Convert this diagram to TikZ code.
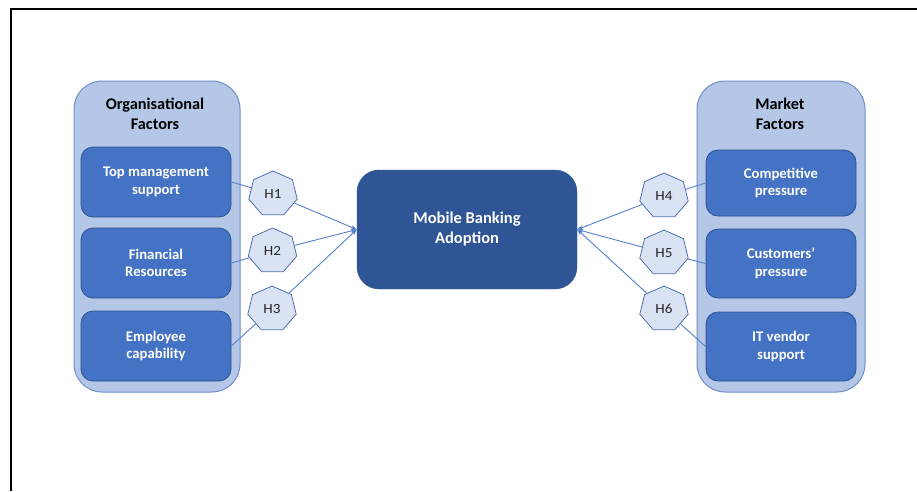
\documentclass[tikz,border=0pt]{standalone}
\usepackage{fontspec}
\setmainfont{Carlito}
\usetikzlibrary{shapes.geometric,arrows.meta}
\definecolor{outerfill}{HTML}{B4C7E7}
\definecolor{outerdraw}{HTML}{6F8FC9}
\definecolor{innerfill}{HTML}{4472C4}
\definecolor{innerdraw}{HTML}{2F528F}
\definecolor{centerfill}{HTML}{2F5597}
\definecolor{heptfill}{HTML}{DAE3F3}
\definecolor{heptdraw}{HTML}{4F6FAF}
\definecolor{linkcol}{HTML}{5580CC}
\tikzset{
  outerbox/.style={draw=outerdraw, fill=outerfill, line width=1pt, rounded corners=28pt, inner sep=0pt},
  innerbox/.style={draw=innerdraw, fill=innerfill, line width=0.8pt, rounded corners=12pt, minimum width=150pt, inner sep=0pt, text=white, font=\bfseries\fontsize{14.7}{17.5}\selectfont, align=center},
  centerbox/.style={draw=centerfill, fill=centerfill, rounded corners=22pt, minimum width=220pt, minimum height=119pt, text=white, font=\bfseries\fontsize{16.5}{20}\selectfont, align=center},
  titletext/.style={font=\bfseries\fontsize{16.3}{20}\selectfont, align=center, text=black},
  hept/.style={regular polygon, regular polygon sides=7, draw=heptdraw, fill=heptfill, line width=0.8pt, minimum size=46pt, inner sep=0pt, font=\fontsize{14}{16}\selectfont, text={black!85}, xscale=1.08, transform shape},
  link/.style={draw=linkcol, line width=0.9pt},
  arrowlink/.style={link, -{Stealth[length=6pt,width=4.5pt]}}
}
\begin{document}
\begin{tikzpicture}[x=1pt,y=-1pt]
\useasboundingbox (0,0) rectangle (917,491);
\draw[line width=1.6pt] (11,491) -- (11,9) -- (917,9);
% outer containers
\node[outerbox, minimum width=166pt, minimum height=311pt] (lo) at (157,236.5) {};
\node[outerbox, minimum width=168pt, minimum height=311pt] (ro) at (781,236.5) {};
\node[titletext] (lt) at (155,114) {Organisational\\Factors};
\node[titletext] (rt) at (780,114) {Market\\Factors};
% inner boxes
\node[innerbox, minimum height=70pt] (b1) at (156,182) {Top management\\support};
\node[innerbox, minimum height=70pt] (b2) at (156,263) {Financial\\Resources};
\node[innerbox, minimum height=70pt] (b3) at (156,346) {Employee\\capability};
\node[innerbox, minimum height=66pt] (b4) at (781,183) {Competitive\\pressure};
\node[innerbox, minimum height=69pt] (b5) at (781,263.5) {Customers’\\pressure};
\node[innerbox, minimum height=69pt] (b6) at (781,346.5) {IT vendor\\support};
% centre
\node[centerbox] (c) at (467,229.5) {Mobile Banking\\Adoption};
% hypotheses
\node[hept] (h1) at (273,194) {H1};
\node[hept] (h2) at (272.5,251) {H2};
\node[hept] (h3) at (272,309) {H3};
\node[hept] (h4) at (664,196) {H4};
\node[hept] (h5) at (664,253) {H5};
\node[hept] (h6) at (664,309) {H6};
% connectors
\draw[link] (b1.east) -- (h1);
\draw[link] (b2.east) -- (h2);
\draw[link] (b3.east) -- (h3);
\draw[link] (b4.west) -- (h4);
\draw[link] (b5.west) -- (h5);
\draw[link] (b6.west) -- (h6);
\draw[arrowlink] (h1) -- (c.west);
\draw[arrowlink] (h2) -- (c.west);
\draw[arrowlink] (h3) -- (c.west);
\draw[arrowlink] (h4) -- (c.east);
\draw[arrowlink] (h5) -- (c.east);
\draw[arrowlink] (h6) -- (c.east);
\end{tikzpicture}
\end{document}
